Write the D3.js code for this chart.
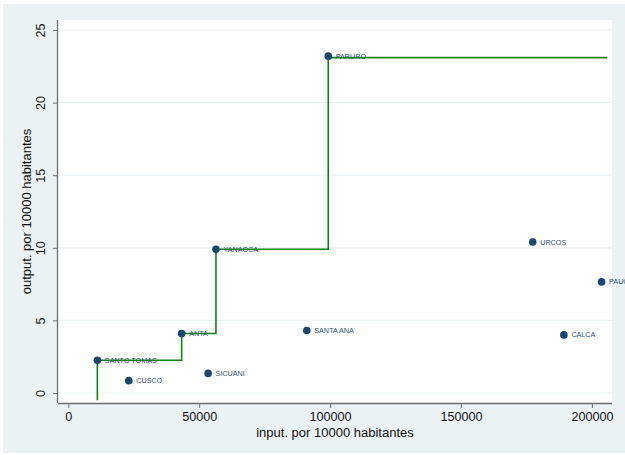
<!DOCTYPE html>
<html>
<head>
<meta charset="utf-8">
<script src="https://cdn.jsdelivr.net/npm/d3@7"></script>
<style>
  html, body { margin: 0; padding: 0; background: #ffffff; }
  svg { display: block; }
</style>
</head>
<body>
<script>
// ---- data ----
const names  = ["SANTO TOMAS", "CUSCO", "ANTA", "SICUANI", "YANAOCA", "SANTA ANA", "PARURO", "URCOS", "PAUCARTAMBO", "CALCA"];
const inputs = [11100, 23100, 43300, 53400, 56400, 91100, 99300, 177400, 203700, 189300];
const outputs = [2.25, 0.85, 4.1, 1.35, 9.9, 4.3, 23.2, 10.4, 7.65, 4.0];
// frontier (step) vertices
const frontierX = [11100, 11100, 43300, 43300, 56400, 56400, 99300, 99300, 205900];
const frontierY = [-0.5, 2.25, 2.25, 4.1, 4.1, 9.9, 9.9, 23.1, 23.1];
const xTicks = [0, 50000, 100000, 150000, 200000];
const yTicks = [0, 5, 10, 15, 20, 25];
const xTitle = "input. por 10000 habitantes";
const yTitle = "output. por 10000 habitantes";

// ---- layout ----
const W = 625, H = 455;
const plot = { left: 58, right: 612, top: 20, bottom: 403 };

const svg = d3.select("body").append("svg").attr("width", W).attr("height", H);

svg.append("rect").attr("x", 3).attr("y", 4).attr("width", W - 3).attr("height", 449)
  .attr("fill", "#eaf2f3");
svg.append("rect").attr("x", plot.left).attr("y", plot.top)
  .attr("width", plot.right - plot.left).attr("height", plot.bottom - plot.top)
  .attr("fill", "#ffffff");

const x = d3.scaleLinear().domain([-3934, 207680]).range([plot.left, plot.right]);
const y = d3.scaleLinear().domain([-0.69, 25.69]).range([plot.bottom, plot.top]);

// grid
svg.append("g").selectAll("line").data(yTicks).join("line")
  .attr("x1", plot.left).attr("x2", plot.right)
  .attr("y1", d => y(d)).attr("y2", d => y(d))
  .attr("stroke", "#eaf2f3").attr("stroke-width", 1.2);

// axes
const font = "'Liberation Sans', Arial, sans-serif";
const xAxis = svg.append("g").attr("transform", `translate(0,${plot.bottom})`)
  .call(d3.axisBottom(x).tickValues(xTicks).tickFormat(d3.format("d")).tickSize(5).tickPadding(4));
const yAxis = svg.append("g").attr("transform", `translate(${plot.left},0)`)
  .call(d3.axisLeft(y).tickValues(yTicks).tickFormat(d3.format("d")).tickSize(5).tickPadding(4));

[xAxis, yAxis].forEach(a => {
  a.select(".domain").attr("stroke", "#6e6e6e").attr("stroke-width", 1.3);
  a.selectAll(".tick line").attr("stroke", "#6e6e6e").attr("stroke-width", 1);
  a.selectAll(".tick text").attr("fill", "#111").style("font-family", font).style("font-size", "12.6px");
});
xAxis.select(".domain").attr("d", `M${plot.left},0.5H${plot.right}`);
yAxis.select(".domain").attr("d", `M-0.5,${plot.bottom}V${plot.top}`);

// rotate y tick labels
yAxis.selectAll(".tick text")
  .attr("x", null)
  .attr("text-anchor", "middle")
  .attr("transform", "translate(-17,0) rotate(-90)")
  .attr("dy", "0.35em");

// axis titles
svg.append("text").attr("x", (plot.left + plot.right) / 2).attr("y", 437)
  .attr("text-anchor", "middle").style("font-family", font).style("font-size", "13px")
  .attr("fill", "#111").text(xTitle);
svg.append("text")
  .attr("transform", `translate(31,${(plot.top + plot.bottom) / 2}) rotate(-90)`)
  .attr("text-anchor", "middle").style("font-family", font).style("font-size", "13px")
  .attr("fill", "#111").text(yTitle);

// frontier
const line = d3.line().x(d => x(d[0])).y(d => y(d[1]));
svg.append("path").datum(frontierX.map((v, i) => [v, frontierY[i]]))
  .attr("d", line).attr("fill", "none").attr("stroke", "#0e830e").attr("stroke-width", 1.6);

// points
const pts = names.map((n, i) => ({ n, x: inputs[i], y: outputs[i] }));
svg.append("g").selectAll("circle").data(pts).join("circle")
  .attr("cx", d => x(d.x)).attr("cy", d => y(d.y)).attr("r", 3.8)
  .attr("fill", "#1a476f");
svg.append("g").selectAll("text").data(pts).join("text")
  .attr("x", d => x(d.x) + 7.5).attr("y", d => y(d.y)).attr("dy", "0.35em")
  .style("font-family", font).style("font-size", "7.2px")
  .attr("fill", "#2c5378").text(d => d.n);
</script>
</body>
</html>
